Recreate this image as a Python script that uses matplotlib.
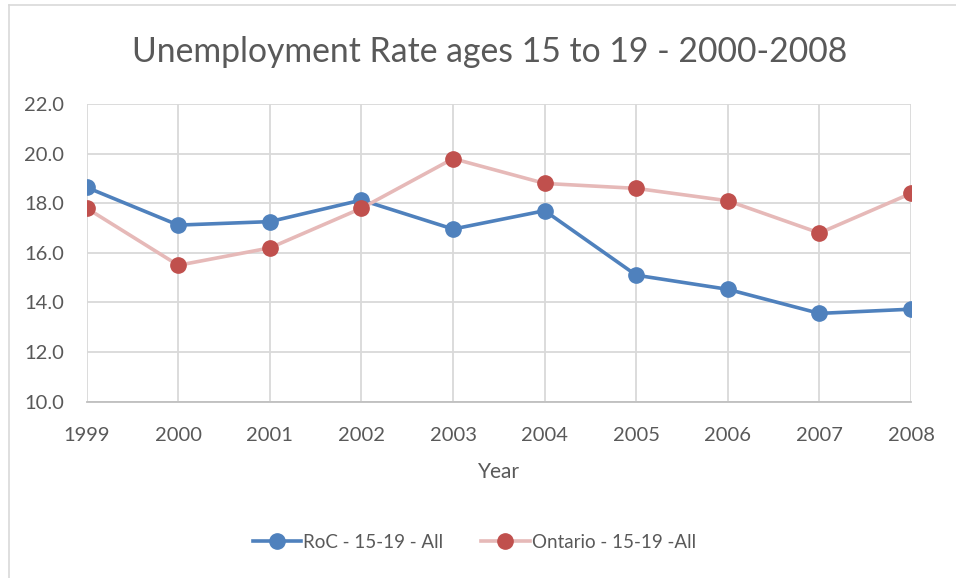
import matplotlib.pyplot as plt
from matplotlib.lines import Line2D

plt.rcParams['font.family'] = ['Lato', 'DejaVu Sans']

# Unemployment rates (%) for ages 15-19
years = [1999, 2000, 2001, 2002, 2003, 2004, 2005, 2006, 2007, 2008]
roc_rate = [18.64, 17.12, 17.26, 18.13, 16.96, 17.70, 15.10, 14.53, 13.56, 13.73]
ontario_rate = [17.8, 15.5, 16.2, 17.8, 19.8, 18.8, 18.6, 18.1, 16.8, 18.4]
y_ticks = [10, 12, 14, 16, 18, 20, 22]

text_color = '#595959'
grid_color = '#d9d9d9'

fig = plt.figure(figsize=(9.56, 5.78), dpi=100)
ax = fig.add_axes([0.0907, 0.305, 0.8623, 0.515])

ax.plot(years, roc_rate, color='#4f81bd', lw=2.6, marker='o', ms=11,
        mfc='#4f81bd', mec='#4f81bd', label='RoC - 15-19 - All', zorder=3)
ax.plot(years, ontario_rate, color='#e6b9b8', lw=2.6, marker='o', ms=11,
        mfc='#c0504d', mec='#c0504d', label='Ontario - 15-19 -All', zorder=3)

ax.set_xlim(years[0], years[-1])
ax.set_ylim(10, 22)
ax.set_xticks(years)
ax.set_yticks(y_ticks)
ax.set_yticklabels([f'{v:.1f}' for v in y_ticks])
ax.grid(True, color=grid_color, lw=1.3)
ax.set_axisbelow(True)
for side in ['top', 'right', 'left']:
    ax.spines[side].set_visible(False)
ax.spines['bottom'].set_color('#bfbfbf')
ax.spines['bottom'].set_linewidth(1.3)
ax.tick_params(length=0, labelsize=14.5, colors=text_color)
ax.tick_params(axis='x', pad=18)
ax.tick_params(axis='y', pad=16)

ax.set_xlabel('Year', fontsize=15, color=text_color, labelpad=13)
fig.text(0.512, 0.91, 'Unemployment Rate ages 15 to 19 - 2000-2008',
         ha='center', va='center', fontsize=24.3, color=text_color)

handles = [Line2D([], [], color='#4f81bd', lw=2.6, marker='o', ms=11),
           Line2D([], [], color='#e6b9b8', lw=2.6, marker='o', ms=11,
                  mfc='#c0504d', mec='#c0504d')]
fig.legend(handles, ['RoC - 15-19 - All', 'Ontario - 15-19 -All'],
           loc='center', bbox_to_anchor=(0.496, 0.062), ncol=2, frameon=False,
           fontsize=13.5, labelcolor=text_color, handlelength=2.6,
           handletextpad=0.1, columnspacing=2.0)

# chart frame (top and left edges)
fig.add_artist(Line2D([9 / 956, 1], [1 - 5 / 578, 1 - 5 / 578],
                      transform=fig.transFigure, color='#d9d9d9', lw=1.2))
fig.add_artist(Line2D([9 / 956, 9 / 956], [0, 1 - 5 / 578],
                      transform=fig.transFigure, color='#d9d9d9', lw=1.2))

fig.savefig('out.png', dpi=100)
